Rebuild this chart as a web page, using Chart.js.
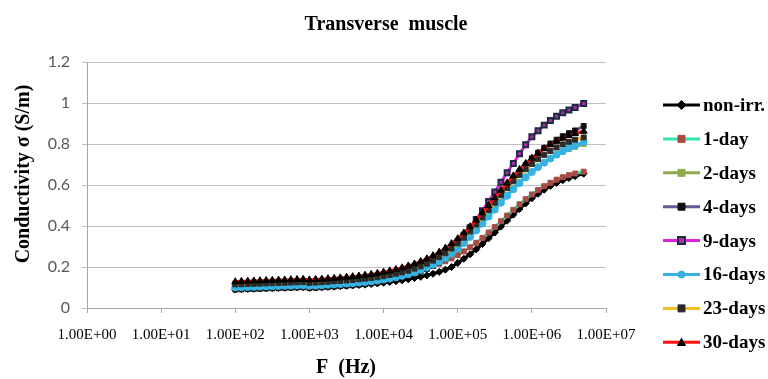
<!DOCTYPE html>
<html>
<head>
<meta charset="utf-8">
<script src="https://cdn.jsdelivr.net/npm/chart.js"></script>
<style>
  html, body { margin: 0; padding: 0; background: #fff; }
  #wrap { width: 768px; height: 379px; }
</style>
</head>
<body>
<div id="wrap"><canvas id="chart-transverse" width="768" height="379"></canvas></div>
<script>
// frequency points (Hz)
const freqs = [
  100, 121, 147, 178, 215, 261, 316, 383, 464, 562, 681, 825,
  1000, 1212, 1468, 1778, 2154, 2610, 3162, 3831, 4642, 5623, 6813, 8254,
  10000, 12115, 14678, 17783, 21544, 26102, 31623, 38312, 46416, 56234, 68129, 82540,
  100000, 121150, 146780, 177830, 215440, 261020, 316230, 383120, 464160, 562340, 681290, 825400,
  1000000, 1211500, 1467800, 1778300, 2154400, 2610200, 3162300, 3831200, 5000000,
];

const seriesNames = ['non-irr.', '1-day', '2-days', '4-days', '9-days', '16-days', '23-days', '30-days'];

// conductivity (S/m)
const nonIrr = [
  0.090, 0.092, 0.093, 0.094, 0.095, 0.096, 0.097, 0.098, 0.099, 0.100, 0.101, 0.102,
  0.098, 0.100, 0.101, 0.103, 0.104, 0.106, 0.108, 0.110, 0.112, 0.114, 0.117, 0.120,
  0.123, 0.127, 0.131, 0.135, 0.140, 0.146, 0.152, 0.159, 0.167, 0.176, 0.187, 0.200,
  0.220, 0.240, 0.262, 0.286, 0.312, 0.340, 0.368, 0.397, 0.426, 0.455, 0.483, 0.510,
  0.535, 0.557, 0.577, 0.595, 0.610, 0.623, 0.634, 0.643, 0.655,
];
const day1 = [
  0.120, 0.121, 0.122, 0.123, 0.124, 0.125, 0.126, 0.127, 0.128, 0.129, 0.130, 0.131,
  0.128, 0.129, 0.131, 0.133, 0.135, 0.137, 0.139, 0.141, 0.143, 0.145, 0.148, 0.151,
  0.155, 0.159, 0.164, 0.169, 0.175, 0.182, 0.189, 0.197, 0.206, 0.216, 0.228, 0.242,
  0.258, 0.276, 0.296, 0.318, 0.342, 0.368, 0.395, 0.423, 0.451, 0.479, 0.506, 0.531,
  0.554, 0.575, 0.594, 0.611, 0.626, 0.638, 0.648, 0.656, 0.665,
];
const day2 = [
  0.098, 0.099, 0.100, 0.101, 0.102, 0.103, 0.104, 0.105, 0.106, 0.107, 0.108, 0.109,
  0.105, 0.106, 0.108, 0.110, 0.112, 0.114, 0.116, 0.118, 0.120, 0.123, 0.126, 0.130,
  0.134, 0.139, 0.145, 0.152, 0.160, 0.169, 0.180, 0.192, 0.206, 0.222, 0.240, 0.262,
  0.287, 0.315, 0.345, 0.378, 0.412, 0.447, 0.482, 0.517, 0.551, 0.584, 0.614, 0.641,
  0.666, 0.689, 0.710, 0.729, 0.747, 0.762, 0.775, 0.786, 0.800,
];
const day4 = [
  0.090, 0.091, 0.092, 0.093, 0.094, 0.095, 0.096, 0.097, 0.098, 0.099, 0.100, 0.101,
  0.098, 0.099, 0.101, 0.103, 0.105, 0.107, 0.109, 0.111, 0.114, 0.117, 0.120, 0.124,
  0.129, 0.135, 0.141, 0.148, 0.156, 0.166, 0.177, 0.190, 0.205, 0.222, 0.242, 0.266,
  0.293, 0.324, 0.358, 0.395, 0.434, 0.474, 0.514, 0.553, 0.591, 0.627, 0.662, 0.697,
  0.730, 0.757, 0.781, 0.802, 0.821, 0.838, 0.853, 0.866, 0.888,
];
const day9 = [
  0.105, 0.106, 0.107, 0.108, 0.109, 0.110, 0.111, 0.112, 0.113, 0.114, 0.115, 0.116,
  0.113, 0.115, 0.117, 0.119, 0.121, 0.123, 0.125, 0.128, 0.131, 0.134, 0.138, 0.142,
  0.147, 0.153, 0.160, 0.168, 0.177, 0.188, 0.200, 0.214, 0.230, 0.248, 0.269, 0.294,
  0.322, 0.355, 0.392, 0.432, 0.475, 0.520, 0.566, 0.613, 0.660, 0.705, 0.752, 0.796,
  0.835, 0.865, 0.892, 0.915, 0.935, 0.952, 0.966, 0.978, 0.998,
];
const day16 = [
  0.100, 0.101, 0.102, 0.103, 0.104, 0.105, 0.106, 0.107, 0.108, 0.109, 0.110, 0.111,
  0.108, 0.109, 0.111, 0.113, 0.115, 0.117, 0.119, 0.121, 0.124, 0.127, 0.130, 0.134,
  0.139, 0.144, 0.150, 0.157, 0.165, 0.174, 0.185, 0.197, 0.211, 0.227, 0.245, 0.266,
  0.290, 0.317, 0.347, 0.379, 0.412, 0.446, 0.480, 0.514, 0.547, 0.579, 0.609, 0.637,
  0.663, 0.687, 0.709, 0.729, 0.748, 0.765, 0.780, 0.793, 0.810,
];
const day23 = [
  0.115, 0.116, 0.117, 0.118, 0.119, 0.120, 0.121, 0.122, 0.123, 0.124, 0.125, 0.126,
  0.122, 0.124, 0.126, 0.128, 0.130, 0.132, 0.134, 0.137, 0.140, 0.143, 0.146, 0.150,
  0.155, 0.161, 0.167, 0.174, 0.182, 0.192, 0.203, 0.216, 0.231, 0.248, 0.267, 0.290,
  0.315, 0.343, 0.374, 0.407, 0.442, 0.478, 0.514, 0.550, 0.585, 0.618, 0.649, 0.677,
  0.703, 0.726, 0.747, 0.766, 0.783, 0.798, 0.811, 0.821, 0.832,
];
const day30 = [
  0.128, 0.130, 0.131, 0.132, 0.133, 0.134, 0.135, 0.136, 0.137, 0.138, 0.139, 0.140,
  0.137, 0.139, 0.141, 0.143, 0.145, 0.147, 0.150, 0.153, 0.156, 0.160, 0.164, 0.169,
  0.175, 0.181, 0.188, 0.196, 0.205, 0.215, 0.227, 0.240, 0.255, 0.272, 0.292, 0.314,
  0.338, 0.366, 0.396, 0.429, 0.464, 0.500, 0.537, 0.574, 0.610, 0.644, 0.676, 0.705,
  0.731, 0.755, 0.777, 0.796, 0.813, 0.828, 0.841, 0.851, 0.862,
];

const xTickValues = [1, 10, 100, 1000, 10000, 100000, 1000000, 10000000];
const xTickLabels = ['1.00E+00', '1.00E+01', '1.00E+02', '1.00E+03', '1.00E+04', '1.00E+05', '1.00E+06', '1.00E+07'];
const yTickValues = [0, 0.2, 0.4, 0.6, 0.8, 1.0, 1.2];
const yTickLabels = ['0', '0.2', '0.4', '0.6', '0.8', '1', '1.2'];

const allValues = [nonIrr, day1, day2, day4, day9, day16, day23, day30];

// styles per series
const lineColors = ['#000000', '#33E6B0', '#8FAA4C', '#5E5B8F', '#DD22DD', '#36B3E3', '#F6BE25', '#FF1010'];
const markerFill = ['#000000', '#A84B45', '#8FAA4C', '#111111', '#B02AB0', '#36B3E3', '#2B2B2B', '#000000'];
const markerBorder = ['#000000', '#A84B45', '#8FAA4C', '#111111', '#1E2A40', '#36B3E3', '#2B2B2B', '#000000'];
const markerStyle = ['rectRot', 'rect', 'rect', 'rect', 'rect', 'circle', 'rect', 'triangle'];
const markerRadius = [3.5, 3.5, 3.5, 3.5, 3.5, 3.5, 3.5, 4];
const markerBorderW = [1, 1, 1, 1, 2, 1, 1, 1];

const serif = '"Liberation Serif", "Times New Roman", serif';

function drawMarker(ctx, style, x, y, r, fill, stroke, bw) {
  ctx.save();
  ctx.fillStyle = fill;
  ctx.strokeStyle = stroke;
  ctx.lineWidth = bw;
  ctx.beginPath();
  if (style === 'circle') {
    ctx.arc(x, y, r, 0, Math.PI * 2);
  } else if (style === 'rectRot') {
    ctx.moveTo(x, y - r * 1.3);
    ctx.lineTo(x + r * 1.3, y);
    ctx.lineTo(x, y + r * 1.3);
    ctx.lineTo(x - r * 1.3, y);
    ctx.closePath();
  } else if (style === 'triangle') {
    ctx.moveTo(x, y - r);
    ctx.lineTo(x + r, y + r * 0.8);
    ctx.lineTo(x - r, y + r * 0.8);
    ctx.closePath();
  } else {
    ctx.rect(x - r, y - r, r * 2, r * 2);
  }
  ctx.fill();
  ctx.stroke();
  ctx.restore();
}

const textPlugin = {
  id: 'textPlugin',
  afterDraw(chart) {
    const ctx = chart.ctx;
    ctx.save();
    ctx.fillStyle = '#000';

    // title
    ctx.font = 'bold 20px ' + serif;
    ctx.textAlign = 'center';
    ctx.textBaseline = 'middle';
    ctx.fillText('Transverse  muscle', 386, 25);

    // x axis title
    ctx.fillText('F  (Hz)', 346, 368);

    // y axis title
    ctx.save();
    ctx.translate(24, 174);
    ctx.rotate(-Math.PI / 2);
    ctx.fillText('Conductivity \u03c3 (S/m)', 0, 0);
    ctx.restore();

    // legend
    ctx.textAlign = 'left';
    ctx.font = 'bold 19px ' + serif;
    seriesNames.forEach((name, i) => {
      const y = 105 + i * 33.9;
      ctx.strokeStyle = lineColors[i];
      ctx.lineWidth = 3;
      ctx.beginPath();
      ctx.moveTo(663, y);
      ctx.lineTo(700, y);
      ctx.stroke();
      drawMarker(ctx, markerStyle[i], 681.5, y, markerRadius[i], markerFill[i], markerBorder[i], markerBorderW[i]);
      ctx.fillStyle = '#000';
      ctx.fillText(name, 703, y + 1);
    });
    ctx.restore();
  },
};

const datasets = seriesNames.map((name, i) => ({
  label: name,
  data: freqs.map((f, j) => ({ x: f, y: allValues[i][j] })),
  borderColor: lineColors[i],
  backgroundColor: markerFill[i],
  borderWidth: 3,
  pointStyle: markerStyle[i],
  pointRadius: markerRadius[i],
  pointBackgroundColor: markerFill[i],
  pointBorderColor: markerBorder[i],
  pointBorderWidth: markerBorderW[i],
  tension: 0,
  order: seriesNames.length - 1 - i,
}));

const ctx = document.getElementById('chart-transverse').getContext('2d');
const myChart = new Chart(ctx, {
  type: 'line',
  data: { datasets: datasets },
  options: {
    responsive: false,
    animation: false,
    layout: {
      padding: { top: 62, right: 162, left: 0, bottom: 0 },
    },
    plugins: {
      legend: { display: false },
      title: { display: false },
      tooltip: { enabled: false },
    },
    scales: {
      x: {
        type: 'logarithmic',
        min: 1,
        max: 10000000,
        afterBuildTicks: (scale) => {
          scale.ticks = xTickValues.map((v) => ({ value: v }));
        },
        afterFit: (scale) => {
          scale.height = 71;
        },
        ticks: {
          autoSkip: false,
          maxRotation: 0,
          minRotation: 0,
          padding: 13,
          color: '#000',
          font: { family: serif, size: 15 },
          callback: (v, i) => xTickLabels[i],
        },
        grid: {
          drawOnChartArea: false,
          color: '#A6A6A6',
          tickLength: 5,
        },
        border: { color: '#A6A6A6' },
      },
      y: {
        min: 0,
        max: 1.2,
        afterBuildTicks: (scale) => {
          scale.ticks = yTickValues.map((v) => ({ value: v }));
        },
        afterFit: (scale) => {
          scale.width = 87;
        },
        ticks: {
          padding: 12,
          color: '#595959',
          font: { family: 'Lato', size: 16 },
          callback: (v, i) => yTickLabels[i],
        },
        grid: {
          color: '#BFBFBF',
          tickLength: 5,
        },
        border: { color: '#A6A6A6' },
      },
    },
  },
  plugins: [textPlugin],
});
</script>
</body>
</html>
